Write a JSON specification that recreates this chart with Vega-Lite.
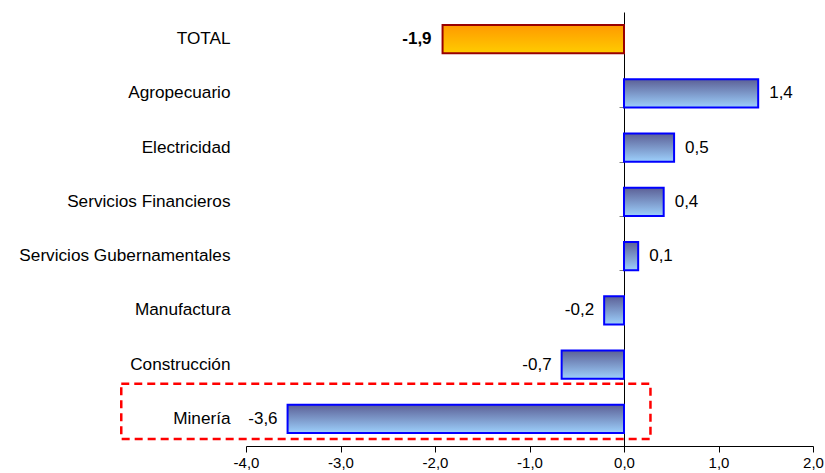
{
  "$schema": "https://vega.github.io/schema/vega-lite/v6.json",
  "width": 567,
  "height": 434,
  "autosize": "none",
  "padding": {"left": 246, "top": 12, "right": 12, "bottom": 27},
  "config": {"view": {"stroke": null}, "font": "Liberation Sans", "background": "white"},
  "data": {
    "values": [
      {"sector": "TOTAL", "value": -1.92, "label": "-1,9"},
      {"sector": "Agropecuario", "value": 1.42, "label": "1,4"},
      {"sector": "Electricidad", "value": 0.53, "label": "0,5"},
      {"sector": "Servicios Financieros", "value": 0.42, "label": "0,4"},
      {"sector": "Servicios Gubernamentales", "value": 0.15, "label": "0,1"},
      {"sector": "Manufactura", "value": -0.21, "label": "-0,2"},
      {"sector": "Construcción", "value": -0.66, "label": "-0,7"},
      {"sector": "Minería", "value": -3.56, "label": "-3,6"}
    ]
  },
  "encoding": {
    "x": {
      "field": "value",
      "type": "quantitative",
      "scale": {"domain": [-4, 2], "nice": false, "zero": false},
      "axis": {
        "title": null,
        "grid": false,
        "values": [-4, -3, -2, -1, 0, 1, 2],
        "labelExpr": "replace(replace(format(datum.value, '.1f'), '.', ','), '\u2212', '-')",
        "domainColor": "black",
        "tickColor": "black",
        "tickSize": 6,
        "labelFontSize": 15,
        "labelColor": "black",
        "labelPadding": 3,
        "labelFlush": false
      }
    }
  },
  "resolve": {"axis": {"y": "independent"}},
  "layer": [
    {
      "transform": [{"filter": "datum.sector != 'TOTAL'"}],
      "mark": {
        "type": "bar",
        "stroke": "#0000ff",
        "strokeWidth": 2,
        "fill": {"gradient": "linear", "x1": 0, "y1": 0, "x2": 0, "y2": 1,
          "stops": [{"offset": 0, "color": "#5c6096"}, {"offset": 1, "color": "#9dd0fc"}]}
      },
      "encoding": {
        "y": {
          "field": "sector", "type": "nominal", "sort": null,
          "scale": {"domain": ["TOTAL", "Agropecuario", "Electricidad", "Servicios Financieros", "Servicios Gubernamentales", "Manufactura", "Construcción", "Minería"], "paddingInner": 0.48, "paddingOuter": 0.24},
          "axis": {"title": null, "domain": false, "ticks": false, "labelPadding": 16, "labelFontSize": 17.2, "labelColor": "black", "labelLimit": 400}
        }
      }
    },
    {
      "transform": [{"filter": "datum.sector == 'TOTAL'"}],
      "mark": {
        "type": "bar",
        "stroke": "#990000",
        "strokeWidth": 2,
        "fill": {"gradient": "linear", "x1": 0, "y1": 0, "x2": 0, "y2": 1,
          "stops": [{"offset": 0, "color": "#ff9900"}, {"offset": 1, "color": "#ffcc00"}]}
      },
      "encoding": {
        "y": {
          "field": "sector", "type": "nominal", "sort": null,
          "axis": {"orient": "left", "offset": -378, "title": null, "labels": false, "domain": true, "domainColor": "black", "ticks": true, "tickBand": "extent", "tickColor": "#808080", "tickSize": 5}
        }
      }
    },
    {
      "transform": [{"filter": "datum.value >= 0"}],
      "mark": {"type": "text", "align": "left", "baseline": "middle", "dx": 11, "fontSize": 17, "color": "black"},
      "encoding": {
        "y": {"field": "sector", "type": "nominal", "sort": null, "axis": null},
        "text": {"field": "label"}
      }
    },
    {
      "transform": [{"filter": "datum.value < 0 && datum.sector != 'TOTAL'"}],
      "mark": {"type": "text", "align": "right", "baseline": "middle", "dx": -10, "fontSize": 17, "color": "black"},
      "encoding": {
        "y": {"field": "sector", "type": "nominal", "sort": null, "axis": null},
        "text": {"field": "label"}
      }
    },
    {
      "transform": [{"filter": "datum.sector == 'TOTAL'"}],
      "mark": {"type": "text", "align": "right", "baseline": "middle", "dx": -11, "fontSize": 17, "fontWeight": "bold", "color": "black"},
      "encoding": {
        "y": {"field": "sector", "type": "nominal", "sort": null, "axis": null},
        "text": {"field": "label"}
      }
    },
    {
      "data": {"values": [{"sector": "Minería", "lo": -5.32, "hi": 0.28}]},
      "mark": {"type": "bar", "fill": null, "fillOpacity": 0, "stroke": "#ff0000", "strokeWidth": 2.5, "strokeDash": [8, 5], "height": {"band": 1.95}, "yOffset": -7.5, "clip": false},
      "encoding": {
        "x": {"field": "lo", "type": "quantitative", "title": null},
        "x2": {"field": "hi"},
        "y": {"field": "sector", "type": "nominal", "sort": null, "axis": null}
      }
    }
  ]
}
